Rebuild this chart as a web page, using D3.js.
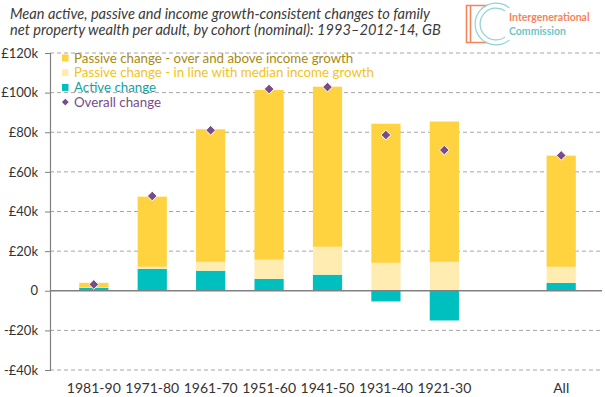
<!DOCTYPE html>
<html>
<head>
<meta charset="utf-8">
<script src="https://cdn.jsdelivr.net/npm/d3@7"></script>
<style>
  body { margin: 0; background: #fff; }
  svg text { font-family: Lato, "Open Sans", sans-serif; }
</style>
</head>
<body>
<div id="chart"></div>
<script>
// values in £k
const cohorts = ["1981-90", "1971-80", "1961-70", "1951-60", "1941-50", "1931-40", "1921-30", "", "All"]
const activeChange = [1.6, 11.1, 10.1, 6.0, 8.1, -5.4, -15.0, null, 4.0]
const passiveInline = [0.3, 1.0, 4.5, 9.7, 14.1, 14.1, 14.6, null, 8.1]
const passiveAbove = [2.1, 35.4, 66.9, 85.6, 80.8, 70.2, 70.8, null, 56.1]
const overallChange = [3.2, 47.8, 81.0, 101.8, 102.8, 78.6, 71.0, null, 68.3]
const yTicks = [-40, -20, 0, 20, 40, 60, 80, 100, 120]

const legendItems = [
    {label: "Passive change - over and above income growth", fill: "#FFD23F", text: "#A8890E", shape: "sq"},
    {label: "Passive change - in line with median income growth", fill: "#FFECB0", text: "#F2C31A", shape: "sq"},
    {label: "Active change", fill: "#00BFBF", text: "#0FA3A3", shape: "sq"},
    {label: "Overall change", fill: "#774C88", text: "#774C88", shape: "dia"}
]

const W = 605, H = 397
const svg = d3.select('#chart').append('svg').attr('width', W).attr('height', H)

const x = d3.scaleBand().domain(cohorts).range([50, 605]).padding(0.5)
const y = d3.scaleLinear().domain([-40, 120]).range([370, 53])

// title
const title = svg.append('text').attr('fill', '#3a3a3a').style('font-style', 'italic').style('font-size', '14.6px')
title.append('tspan').attr('x', 10).attr('y', 19).text("Mean active, passive and income growth-consistent changes to family")
title.append('tspan').attr('x', 10).attr('y', 35).text("net property wealth per adult, by cohort (nominal): 1993\u20132012-14, GB")

// logo
const logo = svg.append('g')
logo.append('path')
    .attr('d', "M487,5.5 H466.5 V42.5 H487 M470.5,5.5 V42.5")
    .attr('fill', 'none').attr('stroke', '#F4845A').attr('stroke-width', 1.6)
const arc1 = d3.arc().innerRadius(20.3).outerRadius(21.5).startAngle(0.78 * Math.PI).endAngle(2.22 * Math.PI)
const arc2 = d3.arc().innerRadius(15.3).outerRadius(16.5).startAngle(0.8 * Math.PI).endAngle(2.2 * Math.PI)
logo.append('path').attr('d', arc1()).attr('transform', 'translate(496,24)').attr('fill', '#8FD3D3')
logo.append('path').attr('d', arc2()).attr('transform', 'translate(496,24)').attr('fill', '#8FD3D3')
logo.append('text').attr('x', 509).attr('y', 21).attr('fill', '#F4845A').style('font-size', '10.5px').style('font-weight', 'bold').text("Intergenerational")
logo.append('text').attr('x', 509).attr('y', 35).attr('fill', '#6EC6C6').style('font-size', '10.5px').style('font-weight', 'bold').text("Commission")

// gridlines
svg.append('g').selectAll('line')
    .data(yTicks.filter(d => d != 0))
    .join('line')
    .attr('x1', 50).attr('x2', 602)
    .attr('y1', d => y(d)).attr('y2', d => y(d))
    .attr('stroke', '#A6A6A6').attr('stroke-dasharray', '4,3')

// stacked bars
const stacks = []
cohorts.forEach((c, i) => {
    if (activeChange[i] == null) return
    const a = activeChange[i]
    const base = Math.max(a, 0)
    stacks.push({c: c, y0: Math.min(a, 0), y1: base, fill: "#00BFBF"})
    stacks.push({c: c, y0: base, y1: base + passiveInline[i], fill: "#FFECB0"})
    stacks.push({c: c, y0: base + passiveInline[i], y1: base + passiveInline[i] + passiveAbove[i], fill: "#FFD23F"})
})
svg.append('g').selectAll('rect')
    .data(stacks)
    .join('rect')
    .attr('x', d => x(d.c))
    .attr('width', x.bandwidth())
    .attr('y', d => y(d.y1))
    .attr('height', d => y(d.y0) - y(d.y1))
    .attr('fill', d => d.fill)

// zero line + y axis
svg.append('line').attr('x1', 50).attr('x2', 602).attr('y1', y(0)).attr('y2', y(0)).attr('stroke', '#808080').attr('stroke-width', 1.5)

const yAxis = svg.append('g').attr('transform', 'translate(50,0)')
    .call(d3.axisLeft(y).tickValues(yTicks).tickSize(5).tickPadding(7)
        .tickFormat(d => d == 0 ? "0" : (d < 0 ? "-£" + (-d) + "k" : "£" + d + "k")))
yAxis.select('.domain').attr('stroke', '#808080').attr('stroke-width', 1.2)
yAxis.selectAll('.tick line').attr('stroke', '#808080')
yAxis.selectAll('.tick text').attr('fill', '#333').style('font-size', '13px').style('font-family', 'Lato, sans-serif')

// x labels
const xAxis = svg.append('g').attr('transform', 'translate(0,' + 375 + ')')
    .call(d3.axisBottom(x).tickSize(0).tickPadding(8))
xAxis.select('.domain').remove()
xAxis.selectAll('.tick text').attr('fill', '#333').style('font-size', '14px').style('font-family', 'Lato, sans-serif')

// overall diamonds
const diamond = d3.symbol().type(d3.symbolDiamond2).size(60)
svg.append('g').selectAll('path')
    .data(cohorts.map((c, i) => ({c: c, v: overallChange[i]})).filter(d => d.v != null))
    .join('path')
    .attr('d', diamond)
    .attr('transform', d => 'translate(' + (x(d.c) + x.bandwidth() / 2) + ',' + y(d.v) + ')')
    .attr('fill', '#774C88').attr('stroke', '#fff').attr('stroke-width', 1)

// legend
const leg = svg.append('g').selectAll('g')
    .data(legendItems)
    .join('g')
    .attr('transform', (d, i) => 'translate(62,' + (58 + i * 14.7) + ')')
leg.filter(d => d.shape == "sq").append('rect')
    .attr('x', 0).attr('y', -3.5).attr('width', 6.5).attr('height', 7).attr('fill', d => d.fill)
leg.filter(d => d.shape == "dia").append('path')
    .attr('d', d3.symbol().type(d3.symbolDiamond2).size(30))
    .attr('transform', 'translate(3.3,0)')
    .attr('fill', d => d.fill)
leg.append('text')
    .attr('x', 12).attr('y', 4.5)
    .attr('fill', d => d.text)
    .style('font-size', '13.3px')
    .text(d => d.label)
</script>
</body>
</html>
